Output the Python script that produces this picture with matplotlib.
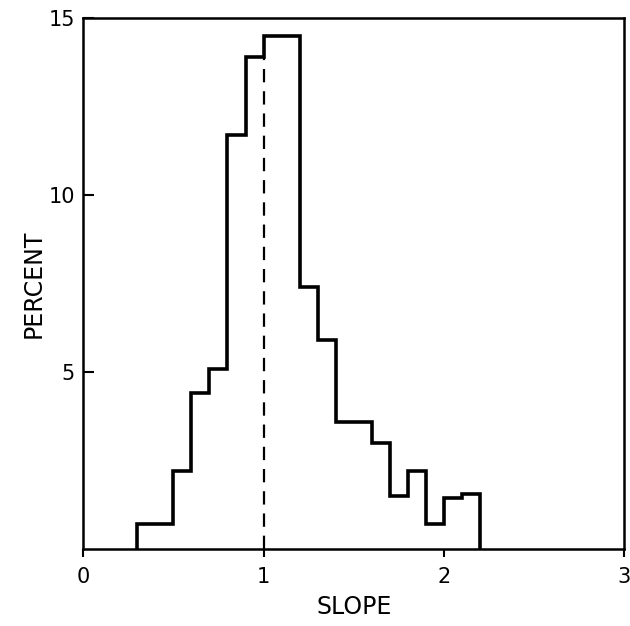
import matplotlib
matplotlib.use("Agg")
import matplotlib.pyplot as plt

# Slope distribution, percent per 0.1-wide bin
binEdges = [0.3, 0.4, 0.5, 0.6, 0.7, 0.8, 0.9, 1.0, 1.1, 1.2, 1.3,
            1.4, 1.5, 1.6, 1.7, 1.8, 1.9, 2.0, 2.1, 2.2]
percents = [0.7, 0.7, 2.2, 4.4, 5.1, 11.7, 13.9, 14.5, 14.5, 7.4,
            5.9, 3.6, 3.6, 3.0, 1.5, 2.2, 0.7, 1.45, 1.55]
refSlope = 1.0
refTop = 13.9

xTicks = [0, 1, 2, 3]
yTicks = [5, 10, 15]

fig = plt.figure(figsize=(6.3, 6.26), dpi=100)
ax = fig.add_axes([0.132, 0.123, 0.859, 0.848])

ax.stairs(percents, binEdges, baseline=0, color="black", linewidth=2.6)
ax.plot([refSlope, refSlope], [0, refTop], color="black",
        linestyle=(0, (6, 4)), linewidth=1.6)

ax.set_xlim(0, 3)
ax.set_ylim(0, 15)
ax.set_xticks(xTicks)
ax.set_yticks(yTicks)
ax.set_xticklabels([str(t) for t in xTicks], fontsize=15)
ax.set_yticklabels([str(t) for t in yTicks], fontsize=15)
ax.tick_params(axis="x", direction="out", length=6, width=1.5, pad=7)
ax.tick_params(axis="y", direction="in", length=8, width=1.5, pad=6)

for s in ax.spines.values():
    s.set_linewidth(1.8)

ax.set_xlabel("SLOPE", fontsize=17, labelpad=6)
ax.set_ylabel("PERCENT", fontsize=17, labelpad=2)

fig.savefig("out.png", dpi=100)
